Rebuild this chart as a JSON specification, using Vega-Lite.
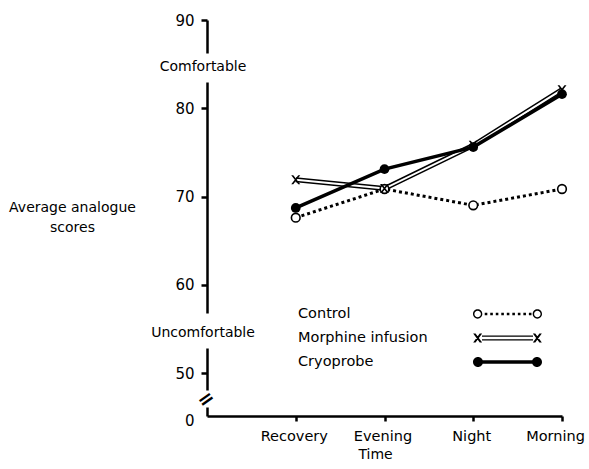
{
  "$schema": "https://vega.github.io/schema/vega-lite/v6.json",
  "autosize": "none",
  "width": 355,
  "height": 401,
  "padding": {"left": 207, "top": 15, "right": 27, "bottom": 53},
  "background": "white",
  "config": {"view": {"stroke": null}, "font": "DejaVu Sans"},
  "data": {"values": [
    {"group": "Control", "time": "Recovery", "score": 67.6},
    {"group": "Control", "time": "Evening", "score": 70.85},
    {"group": "Control", "time": "Night", "score": 69.0},
    {"group": "Control", "time": "Morning", "score": 70.85},
    {"group": "Morphine infusion", "time": "Recovery", "score": 71.9},
    {"group": "Morphine infusion", "time": "Evening", "score": 70.9},
    {"group": "Morphine infusion", "time": "Night", "score": 75.8},
    {"group": "Morphine infusion", "time": "Morning", "score": 82.1},
    {"group": "Cryoprobe", "time": "Recovery", "score": 68.7},
    {"group": "Cryoprobe", "time": "Evening", "score": 73.1},
    {"group": "Cryoprobe", "time": "Night", "score": 75.6},
    {"group": "Cryoprobe", "time": "Morning", "score": 81.6}
  ]},
  "encoding": {
    "x": {
      "field": "time", "type": "ordinal",
      "scale": {"type": "point", "domain": ["", "Recovery", "Evening", "Night", "Morning"], "padding": 0},
      "axis": {
        "title": "Time", "titleFontSize": 14, "titleFontWeight": "normal", "titleColor": "black",
        "titleX": 168, "titleY": 31, "titleAlign": "center", "titleBaseline": "top",
        "labelAngle": 0, "labelFontSize": 14.5, "labelColor": "black", "labelPadding": 8,
        "labelBound": false, "labelOverlap": false, "labelFlush": false,
        "labelOffset": {"condition": {"test": "datum.value === 'Morning'", "value": -7}, "value": -2},
        "domainColor": "black", "domainWidth": 2.5,
        "tickColor": "black", "tickWidth": 2.5, "tickSize": 5,
        "tickOpacity": {"condition": {"test": "datum.value === ''", "value": 0}, "value": 1}
      }
    },
    "y": {
      "field": "score", "type": "quantitative",
      "scale": {"domain": [0, 50, 90], "range": [401, 358, 5], "nice": false, "zero": false},
      "axis": {
        "title": ["Average analogue", "scores"], "titleAngle": 0, "titleFontSize": 14,
        "titleFontWeight": "normal", "titleColor": "black", "titleAlign": "center",
        "titleBaseline": "top", "titleX": -135, "titleY": 185, "titleLineHeight": 20,
        "values": [0, 50, 60, 70, 80, 90], "grid": false,
        "labelFontSize": 15, "labelColor": "black", "labelPadding": 7, "labelOverlap": false,
        "labelOffset": {"condition": {"test": "datum.value === 0", "value": 4}, "value": 0},
        "domainColor": "black", "domainWidth": 2.5, "domainDash": [9, 17, 42, 35, 231, 29, 60],
        "tickColor": "black", "tickWidth": 2.5, "tickSize": 6,
        "tickOpacity": {"condition": {"test": "datum.value === 0", "value": 0}, "value": 1}
      }
    }
  },
  "layer": [
    {
      "transform": [{"filter": "datum.group === 'Morphine infusion'"}],
      "mark": {"type": "line", "color": "black", "strokeWidth": 5}
    },
    {
      "transform": [{"filter": "datum.group === 'Morphine infusion'"}],
      "mark": {"type": "line", "color": "white", "strokeWidth": 2}
    },
    {
      "transform": [{"filter": "datum.group === 'Control'"}],
      "mark": {"type": "line", "color": "black", "strokeWidth": 3, "strokeDash": [3, 3]}
    },
    {
      "transform": [{"filter": "datum.group === 'Cryoprobe'"}],
      "mark": {"type": "line", "color": "black", "strokeWidth": 3.5}
    },
    {
      "transform": [{"filter": "datum.group === 'Control'"}],
      "mark": {"type": "point", "shape": "circle", "size": 75, "filled": true, "fill": "white", "stroke": "black", "strokeWidth": 1.6, "opacity": 1}
    },
    {
      "transform": [{"filter": "datum.group === 'Morphine infusion'"}],
      "mark": {"type": "point", "shape": "M-1,-1L-0.55,-1L1,1L0.55,1Z M-1,1L0.55,-1L1,-1L-0.55,1Z", "size": 81, "filled": true, "color": "black", "opacity": 1}
    },
    {
      "transform": [{"filter": "datum.group === 'Cryoprobe'"}],
      "mark": {"type": "point", "shape": "circle", "size": 95, "filled": true, "color": "black", "opacity": 1}
    },
    {
      "transform": [{"filter": "false"}],
      "mark": {"type": "point", "filled": true, "color": "black", "opacity": 1},
      "encoding": {
        "shape": {
          "field": "group", "type": "nominal",
          "scale": {
            "domain": ["Control", "Morphine infusion", "Cryoprobe"],
            "range": [
              "M-2.875,0A0.388,0.388 0 1,1 -2.099,0A0.388,0.388 0 1,1 -2.875,0Z M-2.76,0A0.273,0.273 0 1,0 -2.214,0A0.273,0.273 0 1,0 -2.76,0Z M2.099,0A0.388,0.388 0 1,1 2.875,0A0.388,0.388 0 1,1 2.099,0Z M2.214,0A0.273,0.273 0 1,0 2.76,0A0.273,0.273 0 1,0 2.214,0Z M-1.8975,-0.108h0.216v0.216h-0.216Z M-1.4375,-0.108h0.216v0.216h-0.216Z M-0.9775,-0.108h0.216v0.216h-0.216Z M-0.5175,-0.108h0.216v0.216h-0.216Z M-0.0575,-0.108h0.216v0.216h-0.216Z M0.4025,-0.108h0.216v0.216h-0.216Z M0.8625,-0.108h0.216v0.216h-0.216Z M1.3225,-0.108h0.216v0.216h-0.216Z M1.7825,-0.108h0.216v0.216h-0.216Z",
              "M-2.861,-0.374L-2.659,-0.374L-2.113,0.374L-2.314,0.374Z M-2.861,0.374L-2.314,-0.374L-2.113,-0.374L-2.659,0.374Z M2.113,-0.374L2.314,-0.374L2.861,0.374L2.659,0.374Z M2.113,0.374L2.659,-0.374L2.861,-0.374L2.314,0.374Z M-2.128,-0.216h4.255v0.115h-4.255Z M-2.128,0.101h4.255v0.115h-4.255Z",
              "M-2.875,0A0.417,0.417 0 1,1 -2.041,0A0.417,0.417 0 1,1 -2.875,0Z M2.041,0A0.417,0.417 0 1,1 2.875,0A0.417,0.417 0 1,1 2.041,0Z M-2.4725,-0.144h4.945v0.2875h-4.945Z"
            ]
          },
          "legend": {
            "orient": "none", "legendX": 288.5, "legendY": 287, "title": null, "padding": 0,
            "labelOffset": -221.5, "rowPadding": 5, "symbolSize": 576,
            "symbolFillColor": "black", "symbolStrokeColor": "black", "symbolStrokeWidth": 0,
            "symbolOpacity": 1, "labelFontSize": 14.5, "labelFont": "DejaVu Sans",
            "labelColor": "black", "labelLimit": 300
          }
        }
      }
    },
    {
      "data": {"values": [
        {"note": "Comfortable", "score": 84.7},
        {"note": "Uncomfortable", "score": 54.5}
      ]},
      "mark": {"type": "text", "fontSize": 14, "color": "black", "align": "center", "baseline": "middle", "dx": -4},
      "encoding": {
        "x": {"datum": "", "type": "ordinal"},
        "text": {"field": "note", "type": "nominal"}
      }
    },
    {
      "data": {"values": [{"note": "axis break", "score": 19.8}]},
      "mark": {"type": "text", "text": "=", "fontSize": 20, "fontWeight": "bold", "color": "black", "align": "center", "baseline": "middle", "angle": -35, "dx": -1},
      "encoding": {
        "x": {"datum": "", "type": "ordinal"}
      }
    }
  ]
}
